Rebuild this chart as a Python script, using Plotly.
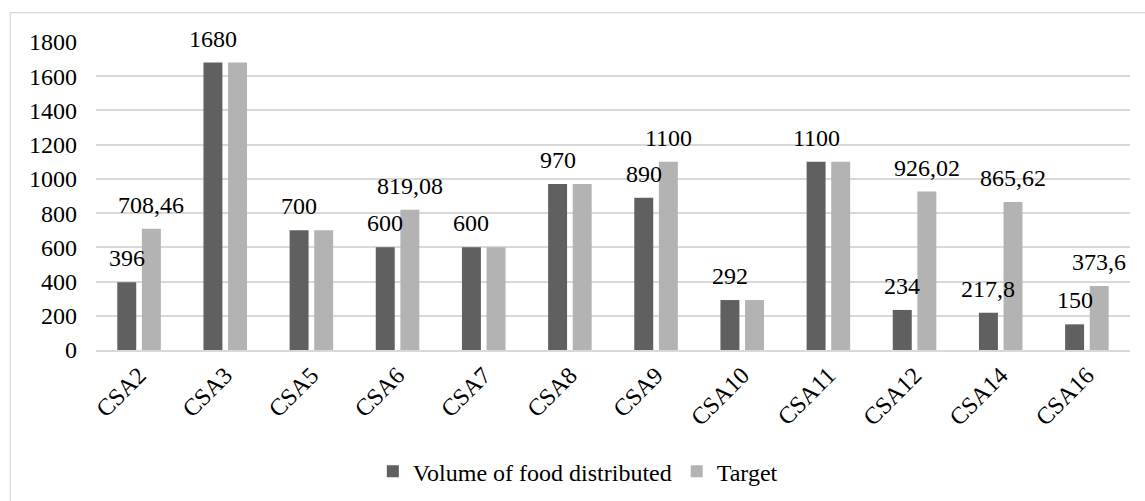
import plotly.graph_objects as go

# Food distribution per CSA versus target
categories = ["CSA2", "CSA3", "CSA5", "CSA6", "CSA7", "CSA8",
              "CSA9", "CSA10", "CSA11", "CSA12", "CSA14", "CSA16"]
volume = [396, 1680, 700, 600, 600, 970, 890, 292, 1100, 234, 217.8, 150]
target = [708.46, 1680, 700, 819.08, 600, 970, 1100, 292, 1100, 926.02, 865.62, 373.6]
y_ticks = [0, 200, 400, 600, 800, 1000, 1200, 1400, 1600, 1800]

DARK = "#606060"
LIGHT = "#B3B3B3"
GRID = "#D9D9D9"
FONT = "Times New Roman, Liberation Serif, Tinos, serif"
FS = 24

BAR_W = 0.22
OFF_DARK = -0.253
OFF_LIGHT = 0.0325


def fmt(v):
    s = ("%g" % v)
    return s.replace(".", ",")


fig = go.Figure()
fig.add_trace(go.Bar(
    x=categories, y=volume, name="Volume of food distributed",
    marker=dict(color=DARK, line=dict(width=0)),
    width=BAR_W, offset=OFF_DARK,
))
fig.add_trace(go.Bar(
    x=categories, y=target, name="Target",
    marker=dict(color=LIGHT, line=dict(width=0)),
    width=BAR_W, offset=OFF_LIGHT,
))

# value labels: the target label is only shown when it differs from the volume
annotations = []
for i, (v, t) in enumerate(zip(volume, target)):
    annotations.append(dict(
        x=i + OFF_DARK + BAR_W / 2, y=v, text=fmt(v), showarrow=False,
        xref="x", yref="y", yanchor="bottom", xanchor="center", yshift=9,
        font=dict(family=FONT, size=FS, color="#000000"),
    ))
    if t != v:
        annotations.append(dict(
            x=i + OFF_LIGHT + BAR_W / 2, y=t, text=fmt(t), showarrow=False,
            xref="x", yref="y", yanchor="bottom", xanchor="center", yshift=9,
            font=dict(family=FONT, size=FS, color="#000000"),
        ))

fig.update_layout(
    width=1145, height=501,
    margin=dict(l=96, r=15, t=42, b=151, autoexpand=False),
    paper_bgcolor="white", plot_bgcolor="white",
    font=dict(family=FONT, size=FS, color="#000000"),
    showlegend=True,
    legend=dict(orientation="h", x=0.466, y=-0.395, xanchor="center",
                yanchor="middle", font=dict(family=FONT, size=FS),
                bgcolor="rgba(0,0,0,0)"),
    annotations=annotations,
    shapes=[dict(type="rect", xref="paper", yref="paper",
                 x0=-0.0829, x1=1.3, y0=-0.7, y1=1.0952,
                 line=dict(color=GRID, width=1.3), layer="below")],
    bargap=0.5,
)
fig.update_xaxes(
    type="category", tickangle=-45, showgrid=False, automargin=False,
    showline=True, linecolor=GRID, linewidth=1.5,
    ticks="", tickfont=dict(family=FONT, size=FS),
)
fig.update_yaxes(
    range=[0, 1800], tickvals=y_ticks, showgrid=True, gridcolor=GRID,
    gridwidth=1.5, zeroline=False, showline=False, ticks="", automargin=False,
    ticklabelstandoff=18, tickfont=dict(family=FONT, size=FS),
)

fig.write_html("out.html")
